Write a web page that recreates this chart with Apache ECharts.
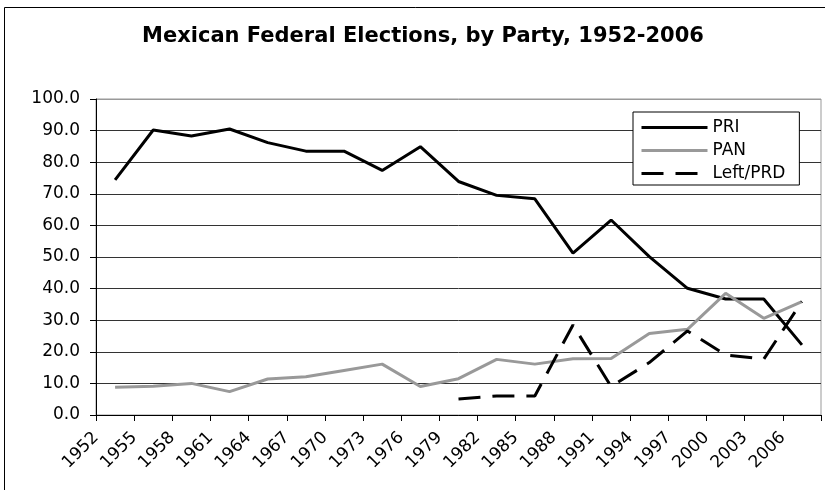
<!DOCTYPE html>
<html>
<head>
<meta charset="utf-8">
<script src="https://cdn.jsdelivr.net/npm/echarts@6/dist/echarts.min.js"></script>
<style>html,body{margin:0;padding:0;background:#fff}#c{width:825px;height:490px}</style>
</head>
<body>
<div id="c"></div>
<script>
const years = ['1952','1955','1958','1961','1964','1967','1970','1973','1976','1979','1982','1985','1988','1991','1994','1997','2000','2003','2006'];
const tickLabels = ['1952','1955','1958','1961','1964','1967','1970','1973','1976','1979','1982','1985','1988','1991','1994','1997','2000','2003','2006',''];
const pri = [74.4, 90.2, 88.3, 90.5, 86.2, 83.5, 83.5, 77.4, 84.9, 73.9, 69.5, 68.4, 51.2, 61.7, 50.1, 40.1, 36.7, 36.7, 22.2];
const pan = [8.8, 9.1, 10.0, 7.4, 11.4, 12.1, 14.1, 16.1, 9.0, 11.5, 17.6, 16.1, 17.8, 17.9, 25.8, 27.1, 38.5, 30.6, 35.9];
const prd = [null, null, null, null, null, null, null, null, null, 5.1, 6.0, 6.0, 28.5, 9.0, 16.6, 26.6, 19.0, 17.7, 35.9];

const FONT = 'DejaVu Sans';
const chart = echarts.init(document.getElementById('c'));
chart.setOption({
  animation: false,
  backgroundColor: '#fff',
  title: {
    text: 'Mexican Federal Elections, by Party, 1952-2006',
    left: 418, top: 21, textAlign: 'center',
    textStyle: {fontFamily: FONT, fontSize: 21, fontWeight: 'bold', color: '#000'}
  },
  graphic: [{
    type: 'rect', shape: {x: 4.5, y: 7.5, width: 830, height: 490}, silent: true,
    style: {fill: 'none', stroke: '#000', lineWidth: 1}, z: -1
  }],
  legend: {
    orient: 'vertical', left: 633, top: 112,
    padding: [7, 14, 3, 7], itemGap: 6, itemWidth: 66, itemHeight: 14,
    backgroundColor: '#fff', borderColor: '#000', borderWidth: 1, borderRadius: 0,
    textStyle: {fontFamily: FONT, fontSize: 17, color: '#000'},
    itemStyle: {color: 'transparent', borderWidth: 0, opacity: 0},
    lineStyle: {width: 3},
    data: ['PRI', 'PAN', 'Left/PRD']
  },
  grid: {left: 96, right: 4, top: 99, bottom: 75, show: true, borderColor: '#999', borderWidth: 1, backgroundColor: 'transparent'},
  xAxis: [{
    type: 'category', data: years, boundaryGap: true,
    axisLine: {show: false}, axisTick: {show: false}, axisLabel: {show: false}
  }, {
    type: 'category', data: tickLabels, boundaryGap: false, position: 'bottom',
    axisLine: {show: true, lineStyle: {color: '#000', width: 1}},
    axisTick: {show: true, inside: false, length: 6, interval: 0, lineStyle: {color: '#000'}},
    axisLabel: {rotate: 45, interval: 0, margin: 20, fontFamily: FONT, fontSize: 17, color: '#000'},
    splitLine: {show: false}
  }],
  yAxis: {
    type: 'value', min: 0, max: 100, interval: 10,
    axisLine: {show: true, lineStyle: {color: '#000', width: 1}},
    axisTick: {show: true, length: 6, lineStyle: {color: '#000'}},
    axisLabel: {margin: 16, fontFamily: FONT, fontSize: 17, color: '#000', formatter: v => v.toFixed(1)},
    splitLine: {show: true, lineStyle: {color: ['#333','#333','#333','#333','#333','#333','#333','#333','#333','#333','#999'], width: 1}}
  },
  series: [{
    name: 'PRI', type: 'line', xAxisIndex: 0, data: pri, symbol: 'none', showSymbol: false,
    lineStyle: {color: '#000', width: 3}, itemStyle: {color: '#000'}
  }, {
    name: 'PAN', type: 'line', xAxisIndex: 0, data: pan, symbol: 'none', showSymbol: false,
    lineStyle: {color: '#999', width: 3}, itemStyle: {color: '#999'}
  }, {
    name: 'Left/PRD', type: 'line', xAxisIndex: 0, data: prd, symbol: 'none', showSymbol: false,
    lineStyle: {color: '#000', width: 3, type: [22, 12]}, itemStyle: {color: '#000'}
  }]
});
</script>
</body>
</html>
